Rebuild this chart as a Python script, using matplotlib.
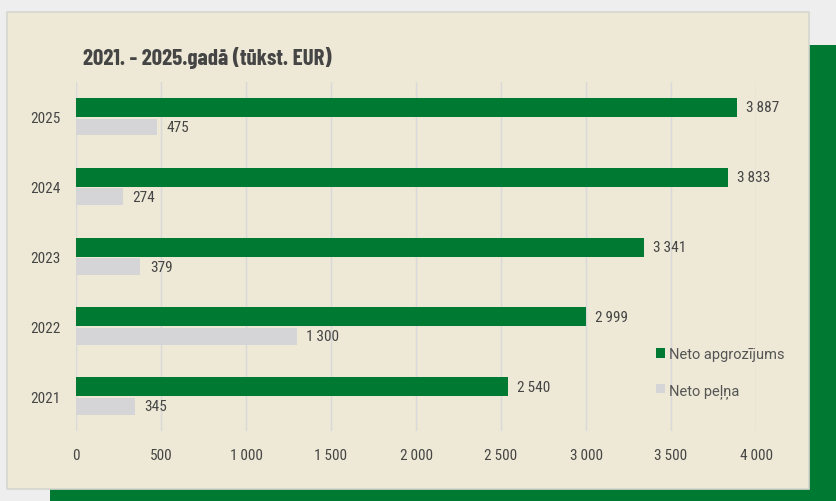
import matplotlib
matplotlib.use("Agg")
import matplotlib.pyplot as plt
from matplotlib.patches import Rectangle, Patch
import numpy as np

years = ["2021", "2022", "2023", "2024", "2025"]
turnover = [2540, 2999, 3341, 3833, 3887]
profit = [345, 1300, 379, 274, 475]
xticks = [0, 500, 1000, 1500, 2000, 2500, 3000, 3500, 4000]
title = "2021. - 2025.gadā (tūkst. EUR)"
series_names = ["Neto apgrozījums", "Neto peļņa"]

GREEN = "#007a33"
GREY = "#d5d5d7"
BEIGE = "#eee9d6"
TEXT = "#454545"
COND = ["Roboto Condensed", "Barlow Condensed", "DejaVu Sans"]
TITLE_FONT = ["Barlow Condensed", "Roboto Condensed", "DejaVu Sans"]

W, H = 836, 502
fig = plt.figure(figsize=(W / 100, H / 100), dpi=100)
fig.patch.set_facecolor("#eeeeee")

def fr(x0, y0, x1, y1):
    return (x0 / W, 1 - y1 / H, (x1 - x0) / W, (y1 - y0) / H)

# green backdrop
gx, gy, gw, gh = fr(50, 46, 836, 502)
fig.patches.append(Rectangle((gx, gy), gw, gh, transform=fig.transFigure,
                             facecolor=GREEN, edgecolor="none", zorder=0))
# beige panel
bx, by, bw, bh = fr(7, 13, 809, 490)
fig.patches.append(Rectangle((bx, by), bw, bh, transform=fig.transFigure,
                             facecolor=BEIGE, edgecolor="#d6d6d0", linewidth=1.2, zorder=1))

ax = fig.add_axes(fr(76, 83, 756, 432))
ax.set_facecolor("none")
ax.set_zorder(2)

y = np.arange(len(years))
ax.barh(y + 0.135, turnover, height=0.27, color=GREEN, label=series_names[0], zorder=3)
ax.barh(y - 0.145, profit, height=0.24, color=GREY, label=series_names[1], zorder=3)

def fmt(v):
    return f"{v:,}".replace(",", "\u2009")

for yi, v in zip(y, turnover):
    ax.text(v + 55, yi + 0.135, fmt(v), va="center", ha="left", fontsize=11,
            color=TEXT, family=COND)
for yi, v in zip(y, profit):
    ax.text(v + 55, yi - 0.145, fmt(v), va="center", ha="left", fontsize=11,
            color=TEXT, family=COND)

ax.set_xlim(0, 4000)
ax.set_ylim(-0.5, len(years) - 0.5)
ax.set_xticks(xticks)
ax.set_xticklabels([fmt(t) for t in xticks], family=COND, fontsize=11, color=TEXT)
ax.set_yticks(y)
ax.set_yticklabels(years, family=COND, fontsize=11, color=TEXT)
ax.tick_params(axis="both", length=0)
ax.tick_params(axis="x", pad=12)
ax.tick_params(axis="y", pad=11)
for s in ax.spines.values():
    s.set_visible(False)
ax.xaxis.grid(True, color="#d9d9d9", linewidth=1, zorder=0)
ax.set_axisbelow(True)

fig.text(83 / W, 1 - 58 / H, title, fontsize=16.5, fontweight="bold", color=TEXT,
         family=TITLE_FONT, va="center", ha="left")

leg = ax.legend(handles=[Patch(facecolor=GREEN), Patch(facecolor=GREY)],
                labels=series_names, loc="upper left",
                bbox_to_anchor=(643 / W, 1 - 335 / H), bbox_transform=fig.transFigure,
                frameon=False, handlelength=0.6, handleheight=0.6, handletextpad=0.3,
                labelspacing=1.5, prop={"family": ["Roboto", "DejaVu Sans"], "size": 10.5})
for t in leg.get_texts():
    t.set_color("#555555")

fig.savefig("out.png", dpi=100, facecolor=fig.get_facecolor())
